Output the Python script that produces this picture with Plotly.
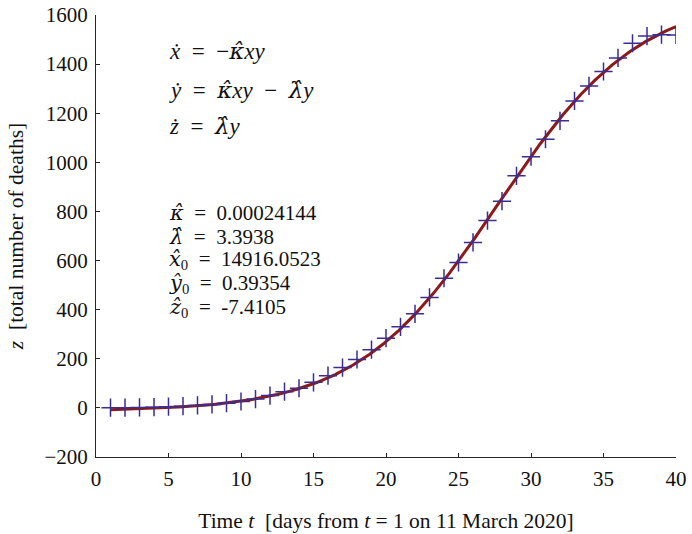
import numpy as np
import plotly.graph_objects as go

# Observed cumulative deaths, day t = 1 is 11 March 2020
days = list(range(1, 41))
deaths = [1, 1, 2, 3, 5, 7, 10, 14, 19, 26,
          36, 50, 66, 80, 104, 131, 164, 197, 237, 284,
          330, 383, 450, 528, 592, 674, 763, 842, 945, 1023,
          1094, 1169, 1250, 1311, 1370, 1425, 1485, 1514, 1520, 1519]

# Fitted SIR parameters
kappa = 0.00024144
lam = 3.3938
x0 = 14916.0523
y0 = 0.39354
z0 = -7.4105

x_ticks = [0, 5, 10, 15, 20, 25, 30, 35, 40]
y_ticks = [-200, 0, 200, 400, 600, 800, 1000, 1200, 1400, 1600]


def rhs(s):
    x, y, z = s
    return np.array([-kappa * x * y, kappa * x * y - lam * y, lam * y])


# integrate the model with RK4 from t = 1 to t = 40
t_fit = np.linspace(1, 40, 1561)
h = t_fit[1] - t_fit[0]
state = np.array([x0, y0, z0])
z_fit = [z0]
for _ in t_fit[1:]:
    k1 = rhs(state)
    k2 = rhs(state + 0.5 * h * k1)
    k3 = rhs(state + 0.5 * h * k2)
    k4 = rhs(state + h * k3)
    state = state + h / 6 * (k1 + 2 * k2 + 2 * k3 + k4)
    z_fit.append(state[2])

serif = "Liberation Serif, Times New Roman, serif"
ink = "#111111"
sp = "\u2002"  # en space around operators, as in typeset math


def hat(sym):
    # hatted symbols use DejaVu Serif, which places combining accents well
    return f"<span style='font-family:DejaVu Serif'><i>{sym}\u0302</i></span>"


fig = go.Figure()
fig.add_trace(go.Scatter(x=t_fit, y=z_fit, mode="lines",
                         line=dict(color="#8c1a1a", width=3), showlegend=False))
fig.add_trace(go.Scatter(x=days, y=deaths, mode="markers",
                         marker=dict(symbol="cross-thin", size=13,
                                     line=dict(color="#3b2d91", width=1.5)),
                         showlegend=False))

axis_common = dict(showgrid=False, zeroline=False, showline=True,
                   linecolor="#262626", linewidth=1, ticks="inside",
                   ticklen=4, tickcolor="#262626",
                   tickfont=dict(family=serif, size=21, color=ink))

fig.update_xaxes(range=[0, 40], tickvals=x_ticks, **axis_common,
                 ticklabelstandoff=3,
                 title=dict(text="Time <i>t</i>  [days from <i>t</i> = 1 on 11 March 2020]",
                            font=dict(family=serif, size=21.5, color=ink),
                            standoff=22))
fig.update_yaxes(range=[-200, 1600], tickvals=y_ticks, **axis_common,
                 ticklabelstandoff=3,
                 title=dict(text="<i>z</i>  [total number of deaths]",
                            font=dict(family=serif, size=21.5, color=ink),
                            standoff=14))


def px_to_data(px, py):
    return (px - 95.5) / 14.51, (408.3 - py) / 0.2461


equations = [
    (f"<i>ẋ</i>{sp}={sp}−{hat('κ')}<i>xy</i>", 51),
    (f"<i>ẏ</i>{sp}={sp}{hat('κ')}<i>xy</i>{sp}−{sp}{hat('λ')}<i>y</i>", 90),
    (f"<i>ż</i>{sp}={sp}{hat('λ')}<i>y</i>", 126),
]
for text, py in equations:
    ax, ay = px_to_data(167, py)
    fig.add_annotation(x=ax, y=ay, text=text, showarrow=False, xanchor="left",
                       yanchor="middle", font=dict(family=serif, size=23, color=ink))

params = [
    (f"{hat('κ')}{sp}={sp}0.00024144", 213),
    (f"{hat('λ')}{sp}={sp}3.3938", 237),
    (f"{hat('x')}<sub>0</sub>{sp}={sp}14916.0523", 260),
    (f"{hat('y')}<sub>0</sub>{sp}={sp}0.39354", 284),
    (f"{hat('z')}<sub>0</sub>{sp}={sp}-7.4105", 308),
]
for text, py in params:
    ax, ay = px_to_data(167, py)
    fig.add_annotation(x=ax, y=ay, text=text, showarrow=False, xanchor="left",
                       yanchor="middle", font=dict(family=serif, size=21, color=ink))

fig.update_layout(width=692, height=534, paper_bgcolor="white", plot_bgcolor="white",
                  margin=dict(l=95.5, r=16, t=14.5, b=76.5, autoexpand=False))

fig.write_html("out.html")
